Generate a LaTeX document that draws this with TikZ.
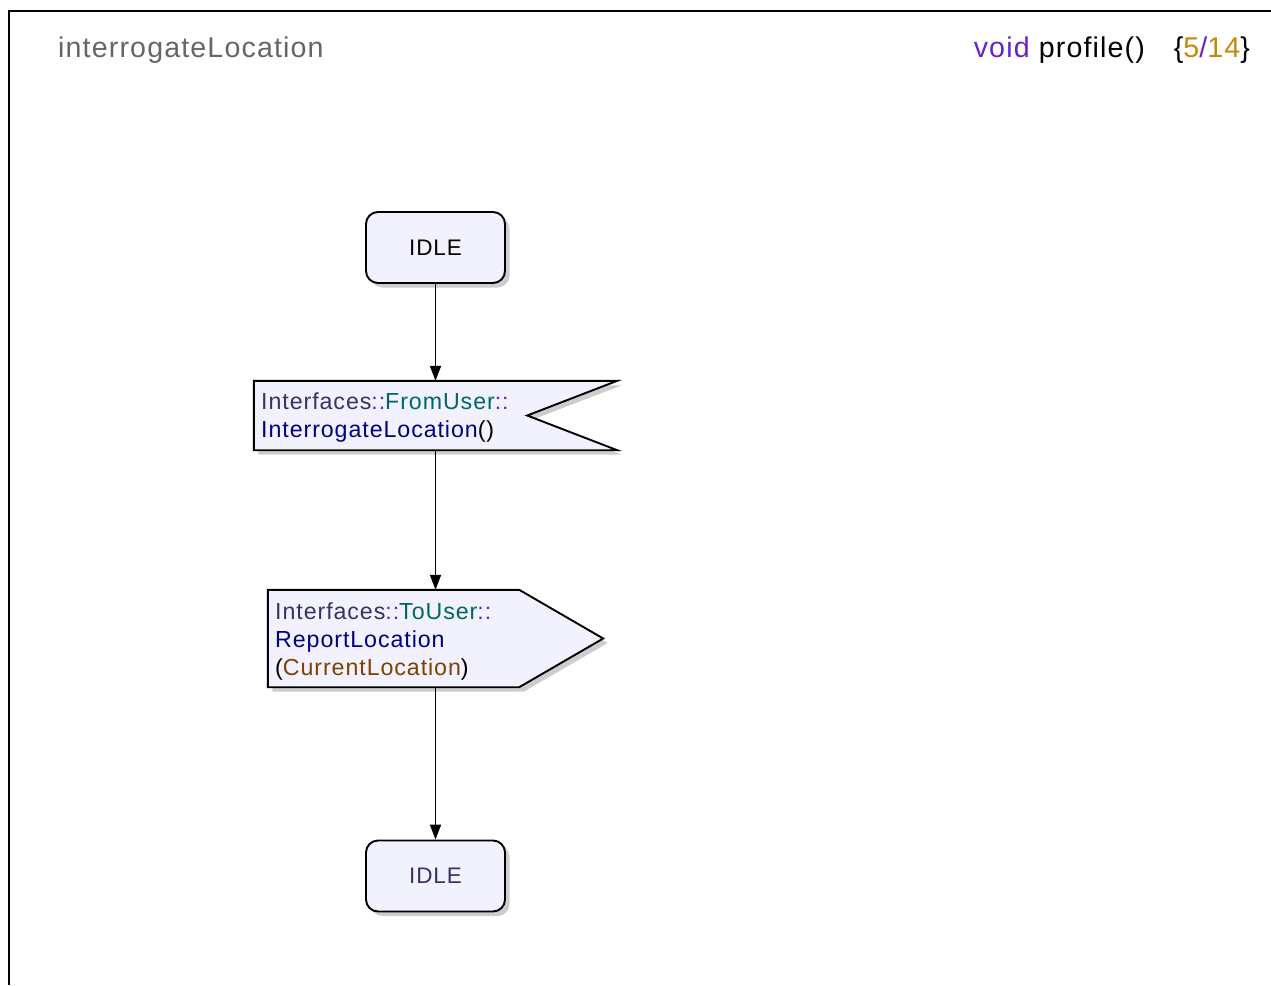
\documentclass[tikz,border=0pt]{standalone}
\usepackage{fontspec}
\setmainfont{Liberation Sans}
\newfontfamily\lblfont{Liberation Sans}[LetterSpace=4]
\usetikzlibrary{arrows.meta,shadows}

\definecolor{statefill}{RGB}{242,242,254}
\definecolor{shadowgray}{RGB}{205,205,205}
\definecolor{titlegray}{RGB}{102,102,102}
\definecolor{kwpurple}{RGB}{102,34,204}
\definecolor{numgold}{RGB}{196,136,10}
\definecolor{nsslate}{RGB}{51,51,102}
\definecolor{ifteal}{RGB}{0,102,102}
\definecolor{signavy}{RGB}{0,0,128}
\definecolor{argbrown}{RGB}{128,64,0}

\tikzset{
  boxshadow/.style={drop shadow={shadow xshift=4.5pt, shadow yshift=-4.5pt, fill=shadowgray, opacity=1}},
  statebox/.style={draw=black, line width=1.9pt, fill=statefill, rounded corners=12pt,
    minimum width=139pt, minimum height=71pt, inner sep=0pt, boxshadow,
    font=\lblfont\fontsize{22.5}{26}\selectfont},
  sigframe/.style={draw=none, fill=none, inner sep=0pt},
  sigshape/.style={draw=black, line width=1.9pt, fill=statefill, boxshadow},
  sigtext/.style={anchor=base west, inner sep=0pt, font=\lblfont\fontsize{23.2}{27}\selectfont},
  flow/.style={draw=black, line width=1.8pt, -{Triangle[length=15pt,width=11pt]}},
}

\begin{document}
\begin{tikzpicture}[x=1pt,y=-1pt]
\useasboundingbox (0,0) rectangle (1271,985);

% outer frame (open to the right and bottom)
\draw[line width=2pt] (8.5,985) -- (8.5,11) -- (1271,11);

% header texts
\node[anchor=base west, inner sep=0pt, text=titlegray, font=\lblfont\fontsize{28.6}{33}\selectfont]
  (title) at (58,57) {interrogateLocation};
\node[anchor=base east, inner sep=0pt, font=\lblfont\fontsize{28.6}{33}\selectfont]
  (header) at (1250,57) {\textcolor{kwpurple}{void} profile()\hspace{29pt}\{\textcolor{numgold}{5}\textcolor{kwpurple}{/}\textcolor{numgold}{14}\}};

% states
\node[statebox] (idle1) at (435.5,247.5) {IDLE};
\node[statebox, text=nsslate] (idle2) at (435.5,876) {IDLE};

% input signal (notched on the right)
\node[sigframe, minimum width=363pt, minimum height=69pt] (sigin) at (435.5,415.5) {};
\path[sigshape] (sigin.north west) -- (sigin.north east) -- ([xshift=-90pt]sigin.east)
  -- (sigin.south east) -- (sigin.south west) -- cycle;
\node[sigtext] (sigin1) at (261,409)
  {\textcolor{nsslate}{Interfaces}\textcolor{kwpurple}{::}\textcolor{ifteal}{FromUser}\textcolor{kwpurple}{::}};
\node[sigtext] (sigin2) at (261,437) {\textcolor{signavy}{InterrogateLocation}()};

% output signal (pointed on the right)
\node[sigframe, minimum width=335pt, minimum height=97pt] (sigout) at (435.5,638.5) {};
\path[sigshape] (sigout.north west) -- ([xshift=-84pt]sigout.north east) -- (sigout.east)
  -- ([xshift=-84pt]sigout.south east) -- (sigout.south west) -- cycle;
\node[sigtext] (sigout1) at (275,619)
  {\textcolor{nsslate}{Interfaces}\textcolor{kwpurple}{::}\textcolor{ifteal}{ToUser}\textcolor{kwpurple}{::}};
\node[sigtext] (sigout2) at (275,647) {\textcolor{signavy}{ReportLocation}};
\node[sigtext] (sigout3) at (275,675) {(\textcolor{argbrown}{CurrentLocation})};

% transitions
\draw[flow] (idle1) -- (sigin);
\draw[flow] (sigin) -- (sigout);
\draw[flow] (sigout) -- (idle2);
\end{tikzpicture}
\end{document}
